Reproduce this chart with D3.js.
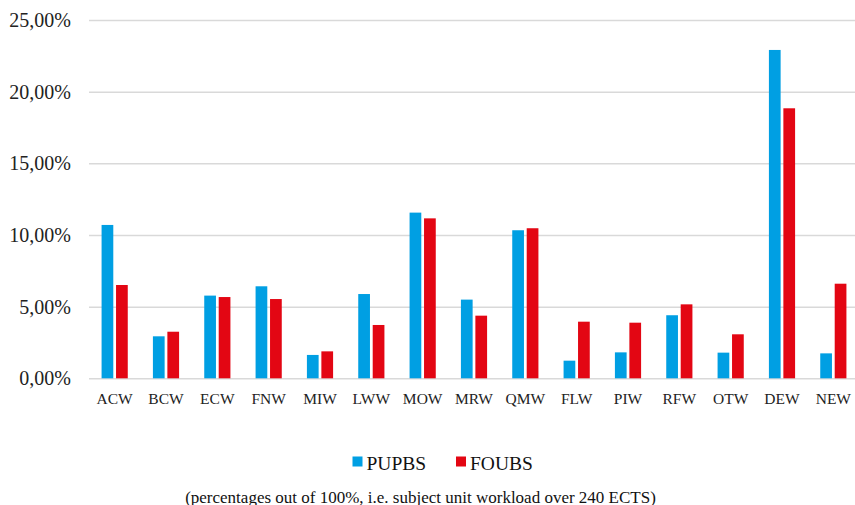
<!DOCTYPE html>
<html>
<head>
<meta charset="utf-8">
<script src="https://cdn.jsdelivr.net/npm/d3@7"></script>
<style>
  body { margin: 0; background: #fff; }
  svg { display: block; font-family: "Liberation Serif", "Times New Roman", serif; }
</style>
</head>
<body>
<svg width="855" height="505"></svg>
<script>
const categories = ["ACW", "BCW", "ECW", "FNW", "MIW", "LWW", "MOW", "MRW", "QMW", "FLW", "PIW", "RFW", "OTW", "DEW", "NEW"];
const seriesNames = ["PUPBS", "FOUBS"];
const pupbs = [10.70, 2.93, 5.77, 6.42, 1.63, 5.88, 11.56, 5.49, 10.33, 1.23, 1.81, 4.40, 1.79, 22.91, 1.74];
const foubs = [6.51, 3.25, 5.67, 5.53, 1.88, 3.72, 11.16, 4.37, 10.47, 3.95, 3.88, 5.16, 3.07, 18.84, 6.60];
const yTicks = [0, 5, 10, 15, 20, 25];
const colors = ["#009fe3", "#e30613"];
const caption = "(percentages out of 100%, i.e. subject unit workload over 240 ECTS)";

const data = categories.map((c, i) => ({ name: c, values: [pupbs[i], foubs[i]] }));

const svg = d3.select("svg");
const margin = { left: 89, right: -4, top: 20, bottom: 127 };
const width = 855, height = 505;

const y = d3.scaleLinear()
    .domain([0, 25])
    .range([height - margin.bottom + 0.3, margin.top]);

const x0 = d3.scaleBand()
    .domain(categories)
    .range([margin.left, width - margin.right])
    .paddingInner(0.49)
    .paddingOuter(0.245);

const x1 = d3.scaleBand()
    .domain(seriesNames)
    .range([0, x0.bandwidth()])
    .paddingInner(0.19);

// gridlines
const yAxis = d3.axisLeft(y)
    .tickValues(yTicks)
    .tickSize(-(width - margin.left))
    .tickPadding(18)
    .tickFormat(d => d3.format(".2f")(d).replace(".", ",") + "%");

svg.append("g")
    .attr("class", "yAxis")
    .attr("transform", `translate(${margin.left}, 0)`)
    .call(yAxis)
    .call(g => g.select(".domain").remove())
    .call(g => g.selectAll("line").attr("stroke", "#d9d9d9").attr("stroke-width", 1.5))
    .call(g => g.selectAll("text")
        .attr("font-size", 20)
        .attr("fill", "#222")
        .attr("font-family", "Liberation Serif"));

// bars
const groups = svg.append("g")
    .selectAll("g")
    .data(data)
    .enter()
    .append("g")
    .attr("transform", d => `translate(${x0(d.name)}, 0)`);

groups.selectAll("rect")
    .data(d => d.values.map((v, i) => ({ key: seriesNames[i], value: v, i })))
    .enter()
    .append("rect")
    .attr("x", d => x1(d.key))
    .attr("y", d => y(d.value))
    .attr("width", x1.bandwidth())
    .attr("height", d => y(0) - y(d.value))
    .attr("fill", d => colors[d.i]);

// x labels
const xAxis = d3.axisBottom(x0).tickSize(0).tickPadding(15);
svg.append("g")
    .attr("class", "xAxis")
    .attr("transform", `translate(0, ${y(0)})`)
    .call(xAxis)
    .call(g => g.select(".domain").remove())
    .call(g => g.selectAll("text")
        .attr("font-size", 15.5)
        .attr("fill", "#222")
        .attr("font-family", "Liberation Serif"));

// legend
const legendX = [352.5, 456];
const legend = svg.append("g");
seriesNames.forEach((s, i) => {
    legend.append("rect")
        .attr("x", legendX[i])
        .attr("y", 456.5)
        .attr("width", 10)
        .attr("height", 10)
        .attr("fill", colors[i]);
    legend.append("text")
        .attr("x", legendX[i] + 14)
        .attr("y", 469.5)
        .attr("font-size", 19.5)
        .attr("fill", "#111")
        .text(s);
});

svg.append("text")
    .attr("x", 420.5)
    .attr("y", 502.5)
    .attr("text-anchor", "middle")
    .attr("font-size", 17)
    .attr("fill", "#111")
    .text(caption);
</script>
</body>
</html>
